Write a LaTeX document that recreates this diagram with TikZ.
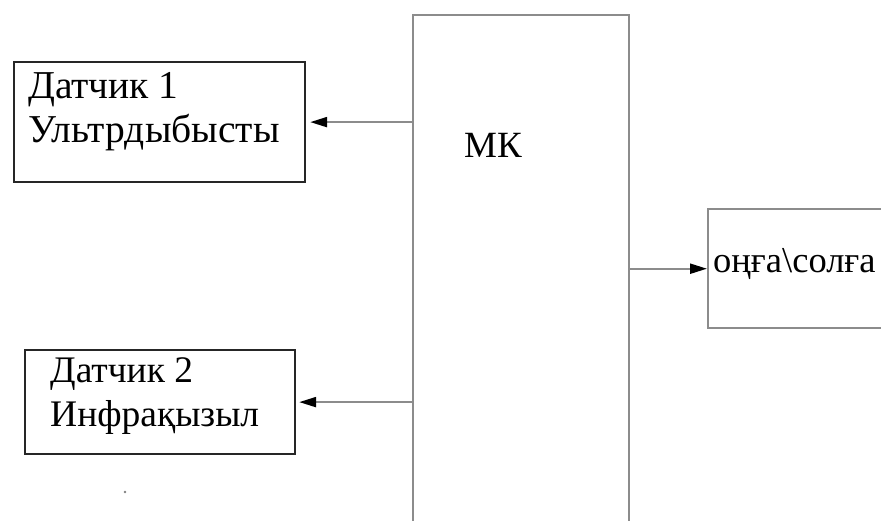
\documentclass[tikz,border=0pt]{standalone}
\usepackage{fontspec}
\setmainfont{Liberation Serif}
\usetikzlibrary{arrows.meta,positioning}

\tikzset{
  blkbox/.style={draw=black!85, line width=2.2pt, rectangle, inner sep=0pt, anchor=north west},
  grybox/.style={draw=gray!90, line width=2.4pt, rectangle, inner sep=0pt, anchor=north west},
  lbl/.style={inner sep=0pt, align=left, font=\fontsize{39.5}{44}\selectfont},
  arr/.style={draw=gray!90, line width=2.2pt, -{Triangle[length=17pt,width=10pt,color=black]}}
}

\begin{document}
\begin{tikzpicture}[x=1pt,y=-1pt]
  \path[use as bounding box, clip] (0,0) rectangle (881,520);

  % blocks
  \node[grybox, minimum width=216pt, minimum height=540pt] (mk) at (412,14) {};
  \node[blkbox, minimum width=291pt, minimum height=120pt] (s1) at (13,61) {};
  \node[blkbox, minimum width=270pt, minimum height=104pt] (s2) at (24,349) {};
  \node[grybox, minimum width=220pt, minimum height=119pt] (dir) at (707,208) {};

  % texts
  \node[lbl, anchor=north west] (s1txt) at (28,72) {Датчик 1\\Ультрдыбысты};
  \node[lbl, anchor=north west, font=\fontsize{37.5}{44}\selectfont] (s2txt) at (50,357) {Датчик 2\\Инфрақызыл};
  \node[lbl, anchor=base west, font=\fontsize{37}{40}\selectfont] (mktxt) at (464,157) {МК};
  \node[lbl, anchor=base west, font=\fontsize{36.5}{40}\selectfont] (dirtxt) at (713,272) {оңға\textbackslash солға};

  % connectors
  \draw[arr] (mk.west |- s1.east) -- ([xshift=4pt]s1.east);
  \draw[arr] (mk.west |- s2.east) -- ([xshift=3pt]s2.east);
  \draw[arr] (mk.east |- dir.west) -- (dir.west);

  \fill[gray] (125,492) circle (1.4);
\end{tikzpicture}
\end{document}
